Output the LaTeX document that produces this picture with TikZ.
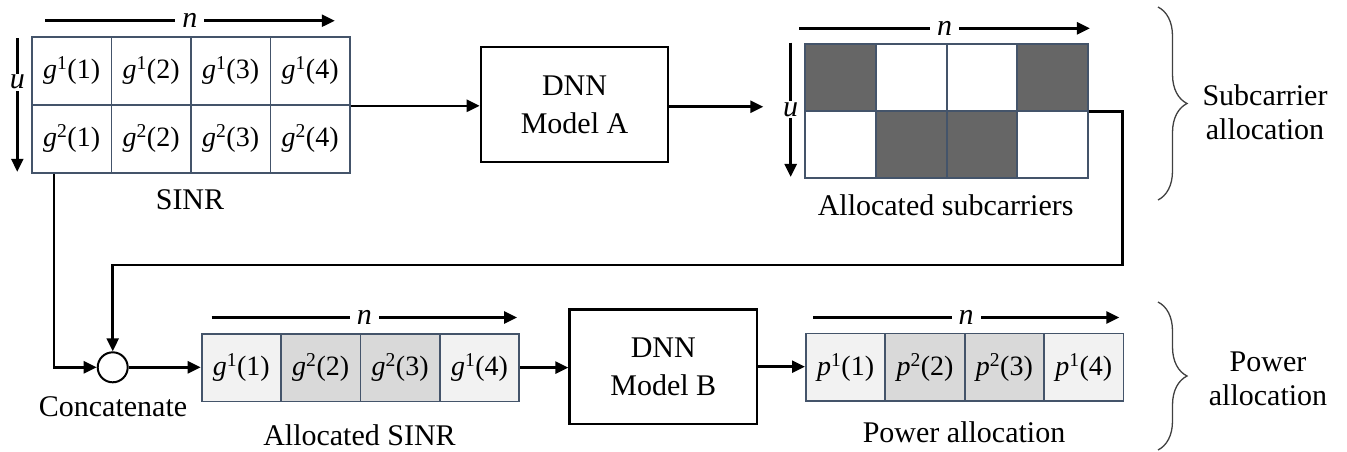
\documentclass[tikz,border=0pt]{standalone}
\usepackage{fontspec}
\setmainfont{Liberation Serif}
\usetikzlibrary{arrows.meta,decorations.pathreplacing,calc}
\definecolor{gridline}{HTML}{44546A}
\definecolor{cellLight}{HTML}{F2F2F2}
\definecolor{cellMid}{HTML}{D9D9D9}
\definecolor{cellDark}{HTML}{666666}
% entry such as g^1(2): italic symbol, upright index and argument
\newcommand{\entry}[3]{\textit{#1}\textsuperscript{#2}(#3)}
\begin{document}
\begin{tikzpicture}[x=1pt,y=-1pt,
  lbl/.style={font=\fontsize{30}{34}\selectfont, inner sep=0pt, align=center},
  cellbase/.style={draw=gridline, line width=1.8pt, inner sep=0pt, anchor=north west,
    font=\fontsize{28}{30}\selectfont},
  sinrcell/.style={cellbase, minimum width=79.5pt, minimum height=68pt},
  alloccell/.style={cellbase, minimum width=70.7pt, minimum height=67.2pt},
  vecell/.style={cellbase, minimum width=79.4pt, minimum height=67.8pt},
  dnn/.style={draw, line width=2.2pt, minimum width=187.6pt, minimum height=114.5pt,
    font=\fontsize{30}{38}\selectfont, align=center, inner sep=0pt},
  arr/.style={line width=2.6pt, -{Triangle[length=13pt,width=12pt]}},
  nlab/.style={fill=white, inner xsep=7pt, inner ysep=1pt, font=\fontsize{30}{30}\selectfont\itshape},
  ulab/.style={fill=white, inner xsep=1pt, inner ysep=1.5pt, font=\fontsize{30}{30}\selectfont\itshape},
  brc/.style={decorate, decoration={brace, amplitude=29pt}, line width=1.3pt, draw=black!75}
]
\useasboundingbox (0,0) rectangle (1347,451);

% SINR matrix
\foreach \r in {1,2}
  \foreach \c in {1,...,4}
    \node[sinrcell] (s\r\c) at ({31+(\c-1)*79.5},{36+(\r-1)*68}) {\entry{g}{\r}{\c}};
\draw[arr] ($(s11.north west)+(14,-15.3)$) -- node[nlab]{n} ($(s14.north east)+(-16,-15.3)$);
\draw[arr] ($(s11.north west)+(-13.7,2)$) -- node[ulab, pos=0.33]{u} ($(s21.south west)+(-13.7,-2)$);
\node[lbl] (sinrlbl) at (190,200) {SINR};

% DNN model A
\node[dnn] (dnnA) at (574.5,104.5) {DNN\\Model A};

% allocated subcarrier matrix
\foreach \r/\c/\f in {1/1/cellDark,1/2/white,1/3/white,1/4/cellDark,
                      2/1/white,2/2/cellDark,2/3/cellDark,2/4/white}
  \node[alloccell, fill=\f] (a\r\c) at ({804.3+(\c-1)*70.7},{42.7+(\r-1)*67.2}) {};
\draw[arr] ($(a11.north west)+(-5,-14.4)$) -- node[nlab]{n} ($(a14.north east)+(1,-14.4)$);
\draw[arr] ($(a11.north west)+(-13.6,0)$) -- node[ulab]{u} ($(a21.south west)+(-13.6,-2)$);
\node[lbl] (alloclbl) at (945.6,205) {Allocated subcarriers};

% concatenation
\node[draw, circle, line width=2pt, minimum size=30pt, inner sep=0pt] (cat) at (112.7,367.3) {};
\node[lbl] (catlbl) at (113,407) {Concatenate};

% allocated SINR vector
\foreach \c/\f/\u in {1/cellLight/1,2/cellMid/2,3/cellMid/2,4/cellLight/1}
  \node[vecell, fill=\f] (v\c) at ({200.7+(\c-1)*79.4},332.8) {\entry{g}{\u}{\c}};
\draw[arr] ($(v1.north west)+(11,-15.3)$) -- node[nlab]{n} ($(v4.north east)+(-3,-15.3)$);
\node[lbl] (vlbl) at (359.5,435) {Allocated SINR};

% DNN model B
\node[dnn] (dnnB) at (663.3,366.7) {DNN\\Model B};

% power allocation vector
\foreach \c/\f/\u in {1/cellLight/1,2/cellMid/2,3/cellMid/2,4/cellLight/1}
  \node[vecell, fill=\f] (p\c) at ({805+(\c-1)*79.4},332.6) {\entry{p}{\u}{\c}};
\draw[arr] ($(p1.north west)+(8,-15.1)$) -- node[nlab]{n} ($(p4.north east)+(-5,-15.1)$);
\node[lbl] (plbl) at (964,432) {Power allocation};

% connectors
\coordinate (aIn) at (763.3,106.7);
\coordinate (sOut) at ($(s21.south west)+(23,0)$);
\coordinate (fb) at (1122.7,265);
\draw[arr] (s14.south east) -- (s14.south east -| dnnA.west);
\draw[arr] (dnnA.east |- aIn) -- (aIn);
\draw[arr] (a14.south east) -| (fb) -| (cat.north);
\draw[arr] (sOut) |- (cat.west);
\draw[arr] (cat.east) -- (cat.east -| v1.west);
\draw[arr] (v4.east) -- (v4.east -| dnnB.west);
\draw[arr] (dnnB.east) -- (dnnB.east -| p1.west);

% stage braces
\coordinate (b1t) at (1158,7);
\coordinate (b1b) at (1158,200);
\coordinate (b2t) at (1158,302);
\coordinate (b2b) at (1158,450);
\draw[brc] (b1t) -- (b1b);
\draw[brc] (b2t) -- (b2b);
\node[lbl] (stage1) at (1265,112.5) {Subcarrier\\allocation};
\node[lbl] (stage2) at (1268,379) {Power\\allocation};
\end{tikzpicture}
\end{document}
